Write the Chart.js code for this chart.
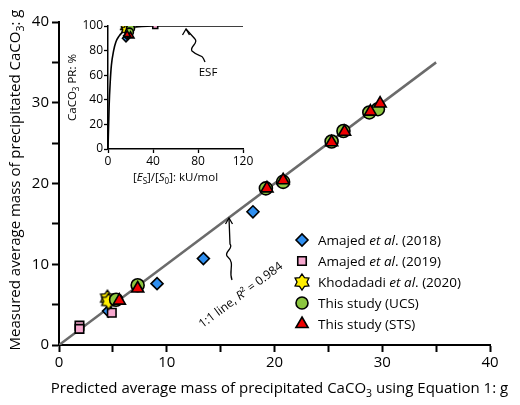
<!DOCTYPE html>
<html>
<head>
<meta charset="utf-8">
<script src="https://cdn.jsdelivr.net/npm/chart.js@4.4.1/dist/chart.umd.min.js"></script>
<style>
body { margin: 0; background: #fff; }
#wrap { position: relative; width: 520px; height: 405px; }
#main { position: absolute; left: 0; top: 0; }
#inset { position: absolute; left: 60px; top: 0; }
</style>
</head>
<body>
<div id="wrap">
<canvas id="main" width="520" height="405"></canvas>
<canvas id="inset" width="200" height="185"></canvas>
</div>
<script>
// main plot data: [predicted, measured]
const amajed2018 = [[4.6, 4.2], [9.1, 7.6], [13.4, 10.7], [18.0, 16.5]];
const amajed2019 = [[1.9, 2.4], [1.9, 2.0], [4.9, 4.0]];
const khodadadi = [[4.5, 5.8], [4.6, 5.4]];
const ucs = [[5.3, 5.6], [7.3, 7.4], [19.2, 19.4], [20.8, 20.2], [25.3, 25.2], [26.4, 26.5], [28.8, 28.8], [29.6, 29.2]];
const sts = [[5.6, 5.5], [7.3, 7.0], [19.3, 19.4], [20.8, 20.4], [25.3, 25.1], [26.5, 26.4], [28.9, 28.9], [29.8, 29.9]];
const oneToOne = [[0, 0], [35, 35]];
const mainTicks = [0, 10, 20, 30, 40];

// inset data: [Es/S0, PR %]
const esfX = [0, 1, 2, 3, 5, 7, 10, 13, 16, 20, 25, 30, 40, 60, 120];
const esfY = [0, 35, 55, 68, 80, 87, 92, 95, 97, 98.5, 99.3, 99.7, 100, 100, 100];
const inAmajed2018 = [[16, 90], [17, 92]];
const inAmajed2019 = [[42, 100], [17, 98]];
const inKhodadadi = [[15, 99], [16, 97]];
const inUcs = [[20, 98], [19, 95]];
const inSts = [[20, 92], [17, 93]];
const insetXTicks = [0, 40, 80, 120];
const insetYTicks = [0, 20, 40, 60, 80, 100];

const FONT = '"Open Sans", "Noto Sans", sans-serif';
const pts = arr => arr.map(p => ({ x: p[0], y: p[1] }));

function starImage(r) {
    const c = document.createElement('canvas');
    const s = Math.ceil(r * 2 + 4);
    c.width = s; c.height = s;
    const g = c.getContext('2d');
    g.beginPath();
    for (let i = 0; i < 12; i++) {
        const a = -Math.PI / 2 + i * Math.PI / 6;
        const rr = i % 2 === 0 ? r : r * 0.62;
        g.lineTo(s / 2 + rr * Math.cos(a), s / 2 + rr * Math.sin(a));
    }
    g.closePath();
    g.fillStyle = '#ffee00';
    g.fill();
    g.lineWidth = 1.3;
    g.strokeStyle = '#000';
    g.stroke();
    return c;
}

const STYLES = {
    a18: { pointStyle: 'rectRot', backgroundColor: '#2f8ff0', borderColor: '#000' },
    a19: { pointStyle: 'rect', backgroundColor: '#f7a8cf', borderColor: '#000' },
    kh: { pointStyle: null, backgroundColor: '#ffee00', borderColor: '#000' },
    ucs: { pointStyle: 'circle', backgroundColor: '#8cc63f', borderColor: '#000' },
    sts: { pointStyle: 'triangle', backgroundColor: '#ee0000', borderColor: '#000' }
};

// lower order is drawn on top
function scatter(label, data, st, r, order, img) {
    return {
        type: 'scatter', label, data: pts(data), order,
        pointStyle: img || st.pointStyle,
        backgroundColor: st.backgroundColor, borderColor: st.borderColor,
        borderWidth: 1.6, pointRadius: r, pointHoverRadius: r
    };
}

// draw text runs: {t, i (italic), sub}
function rich(ctx, runs, x, y, size, align) {
    let w = 0;
    const fontOf = r => (r.i ? 'italic ' : '') + (r.sub ? size * 0.7 : size) + 'px ' + FONT;
    runs.forEach(r => { ctx.font = fontOf(r); w += ctx.measureText(r.t).width; });
    let cx = align === 'center' ? x - w / 2 : x;
    ctx.textBaseline = 'alphabetic';
    ctx.textAlign = 'left';
    runs.forEach(r => {
        ctx.font = fontOf(r);
        ctx.fillText(r.t, cx, y + (r.sub ? size * 0.25 : 0));
        cx += ctx.measureText(r.t).width;
    });
}

function squiggle(ctx, x1, y1, x2, y2, tipX, tipY) {
    ctx.save();
    ctx.strokeStyle = '#000';
    ctx.lineWidth = 1.3;
    ctx.beginPath();
    ctx.moveTo(x1, y1);
    ctx.bezierCurveTo(x1 - 4, y1 - 10, x2 + 6, y2 + 14, x2 - 3, y2 + 6);
    ctx.bezierCurveTo(x2 - 6, y2 + 2, x2 + 4, y2 - 2, x2, y2 - 6);
    ctx.lineTo(tipX, tipY);
    ctx.stroke();
    ctx.beginPath();
    ctx.moveTo(tipX - 3.5, tipY + 6);
    ctx.lineTo(tipX, tipY);
    ctx.lineTo(tipX + 3.5, tipY + 6);
    ctx.stroke();
    ctx.restore();
}

function drawMarker(ctx, st, r, x, y, img) {
    ctx.save();
    ctx.fillStyle = st.backgroundColor;
    ctx.strokeStyle = st.borderColor;
    ctx.lineWidth = 1.6;
    Chart.helpers.drawPoint(ctx, { pointStyle: img || st.pointStyle, radius: r, rotation: 0, borderWidth: 1.6 }, x, y);
    ctx.restore();
}

const bigStar = starImage(8);
const smallStar = starImage(5);

const mainDecor = {
    id: 'mainDecor',
    afterDraw(chart) {
        const ctx = chart.ctx;
        const a = chart.chartArea;
        ctx.save();
        ctx.fillStyle = '#000';
        rich(ctx, [{ t: 'Predicted average mass of precipitated CaCO' }, { t: '3', sub: true }, { t: ' using Equation 1: g' }],
            (a.left + a.right) / 2 + 5, 393, 15, 'center');
        ctx.translate(20, 180);
        ctx.rotate(-Math.PI / 2);
        rich(ctx, [{ t: 'Measured average mass of precipitated CaCO' }, { t: '3', sub: true }, { t: ': g' }], 0, 0, 15, 'center');
        ctx.restore();

        // 1:1 label along the line
        const xs = chart.scales.x, ys = chart.scales.y;
        ctx.save();
        ctx.fillStyle = '#000';
        ctx.translate(243, 298);
        const ang = Math.atan2(ys.getPixelForValue(10) - ys.getPixelForValue(0), xs.getPixelForValue(10) - xs.getPixelForValue(0));
        ctx.rotate(ang);
        rich(ctx, [{ t: '1:1 line, ' }, { t: 'R', i: true }, { t: '² = 0.984' }], 0, 0, 12, 'center');
        ctx.restore();
        squiggle(ctx, 232, 280, 230, 250, 229, 218);

        // legend
        const rows = [
            { st: STYLES.a18, r: 6, runs: [{ t: 'Amajed ' }, { t: 'et al', i: true }, { t: '. (2018)' }] },
            { st: STYLES.a19, r: 6, runs: [{ t: 'Amajed ' }, { t: 'et al', i: true }, { t: '. (2019)' }] },
            { st: STYLES.kh, r: 6, img: bigStar, runs: [{ t: 'Khodadadi ' }, { t: 'et al', i: true }, { t: '. (2020)' }] },
            { st: STYLES.ucs, r: 6, runs: [{ t: 'This study (UCS)' }] },
            { st: STYLES.sts, r: 7, runs: [{ t: 'This study (STS)' }] }
        ];
        rows.forEach((row, i) => {
            const y = 240 + i * 21;
            drawMarker(ctx, row.st, row.r, 302, y, row.img);
            ctx.fillStyle = '#000';
            rich(ctx, row.runs, 318, y + 5, 13.5, 'left');
        });
    }
};

new Chart(document.getElementById('main'), {
    data: {
        datasets: [
            { type: 'line', data: pts(oneToOne), borderColor: '#6b6b6b', borderWidth: 2.5, pointRadius: 0, order: 10 },
            scatter('Amajed et al. (2018)', amajed2018, STYLES.a18, 6, 5),
            scatter('Amajed et al. (2019)', amajed2019, STYLES.a19, 6, 4),
            scatter('Khodadadi et al. (2020)', khodadadi, STYLES.kh, 6, 3, bigStar),
            scatter('This study (UCS)', ucs, STYLES.ucs, 6.5, 2),
            scatter('This study (STS)', sts, STYLES.sts, 7, 1)
        ]
    },
    options: {
        responsive: false, animation: false,
        layout: { padding: { top: 22, right: 30, left: 0, bottom: 0 } },
        plugins: { legend: { display: false }, tooltip: { enabled: false } },
        scales: {
            x: {
                type: 'linear', min: 0, max: 40,
                afterFit: s => { s.height = 60; },
                afterBuildTicks: s => { s.ticks = [0, 5, 10, 15, 20, 25, 30, 35, 40].map(v => ({ value: v })); },
                ticks: { callback: v => mainTicks.includes(v) ? v : '', color: '#000', font: { size: 15, family: FONT }, maxRotation: 0, padding: 2 },
                grid: { drawOnChartArea: false, color: '#000', tickLength: 7, tickWidth: 2 },
                border: { color: '#000', width: 2 }
            },
            y: {
                type: 'linear', min: 0, max: 40,
                afterFit: s => { s.width = 59; },
                afterBuildTicks: s => { s.ticks = [0, 5, 10, 15, 20, 25, 30, 35, 40].map(v => ({ value: v })); },
                ticks: { callback: v => mainTicks.includes(v) ? v : '', color: '#000', font: { size: 15, family: FONT }, padding: 3 },
                grid: { drawOnChartArea: false, color: '#000', tickLength: 7, tickWidth: 2 },
                border: { color: '#000', width: 2 }
            }
        }
    },
    plugins: [mainDecor]
});

const insetDecor = {
    id: 'insetDecor',
    afterDraw(chart) {
        const ctx = chart.ctx;
        const a = chart.chartArea;
        ctx.save();
        ctx.fillStyle = '#000';
        rich(ctx, [{ t: '[' }, { t: 'E', i: true }, { t: 'S', sub: true }, { t: ']/[' }, { t: 'S', i: true }, { t: '0', sub: true }, { t: ']: kU/mol' }],
            (a.left + a.right) / 2, 181, 11.5, 'center');
        ctx.translate(16, (a.top + a.bottom) / 2);
        ctx.rotate(-Math.PI / 2);
        rich(ctx, [{ t: 'CaCO' }, { t: '3', sub: true }, { t: ' PR: %' }], 0, 0, 11.5, 'center');
        ctx.restore();
        ctx.save();
        ctx.fillStyle = '#000';
        ctx.font = '11.5px ' + FONT;
        ctx.textAlign = 'center';
        ctx.fillText('ESF', 148, 76);
        ctx.restore();
        squiggle(ctx, 145, 62, 135, 45, 126, 29);
    }
};

new Chart(document.getElementById('inset'), {
    data: {
        datasets: [
            { type: 'line', data: esfX.map((x, i) => ({ x, y: esfY[i] })), borderColor: '#000', borderWidth: 1.6, pointRadius: 0, tension: 0.4, cubicInterpolationMode: 'monotone', order: 10 },
            scatter('a18', inAmajed2018, STYLES.a18, 3.5, 5),
            scatter('a19', inAmajed2019, STYLES.a19, 3.5, 4),
            scatter('kh', inKhodadadi, STYLES.kh, 4, 3, smallStar),
            scatter('ucs', inUcs, STYLES.ucs, 4, 2),
            scatter('sts', inSts, STYLES.sts, 4, 1)
        ]
    },
    options: {
        responsive: false, animation: false,
        layout: { padding: { top: 26, right: 17, left: 0, bottom: 0 } },
        plugins: { legend: { display: false }, tooltip: { enabled: false } },
        scales: {
            x: {
                type: 'linear', min: 0, max: 120,
                afterFit: s => { s.height = 36; },
                afterBuildTicks: s => { s.ticks = [0, 20, 40, 60, 80, 100, 120].map(v => ({ value: v })); },
                ticks: { callback: v => insetXTicks.includes(v) ? v : '', color: '#000', font: { size: 12, family: FONT }, maxRotation: 0, padding: 1 },
                grid: { drawOnChartArea: false, color: '#000', tickLength: 4, tickWidth: 1.3 },
                border: { color: '#000', width: 1.5 }
            },
            y: {
                type: 'linear', min: 0, max: 100,
                afterFit: s => { s.width = 48; },
                afterBuildTicks: s => { s.ticks = [0, 10, 20, 30, 40, 50, 60, 70, 80, 90, 100].map(v => ({ value: v })); },
                ticks: { callback: v => insetYTicks.includes(v) ? v : '', color: '#000', font: { size: 12, family: FONT }, padding: 1 },
                grid: { drawOnChartArea: false, color: '#000', tickLength: 4, tickWidth: 1.3 },
                border: { color: '#000', width: 1.5 }
            }
        }
    },
    plugins: [insetDecor]
});
</script>
</body>
</html>
